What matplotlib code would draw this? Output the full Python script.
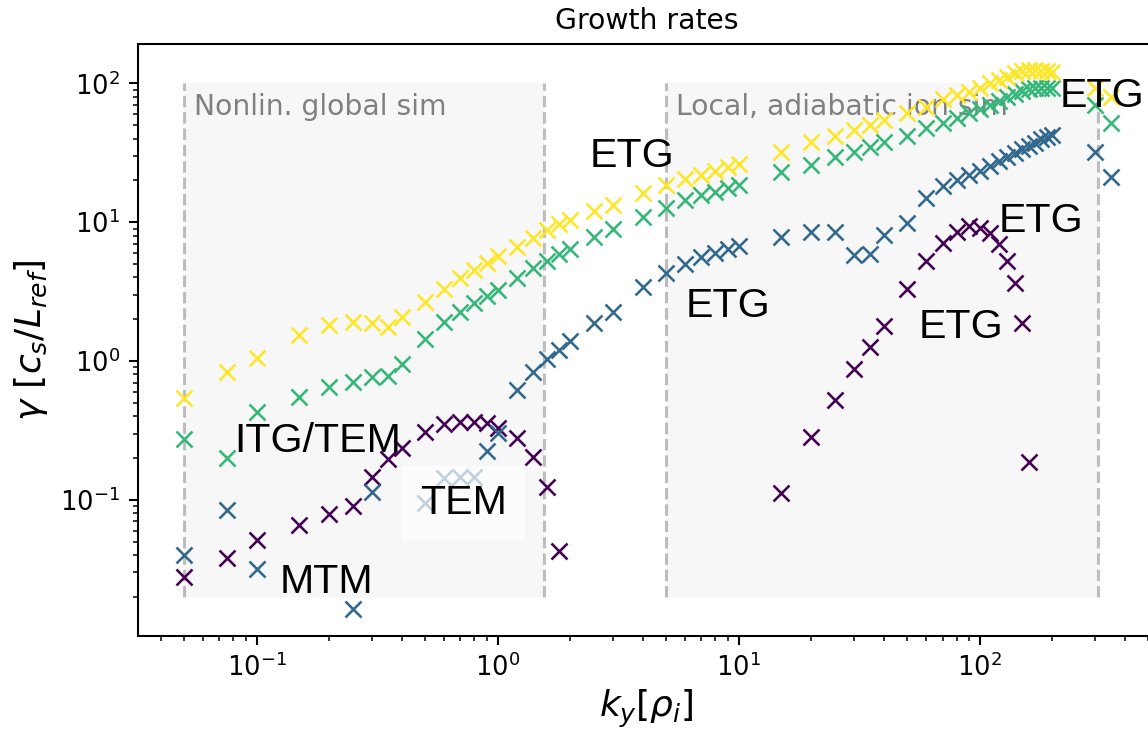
import numpy as np
import matplotlib.pyplot as plt

nan = np.nan

# binormal wavenumbers k_y rho_i
ky_global = [0.05, 0.075, 0.1, 0.15, 0.2, 0.25, 0.3, 0.35, 0.4, 0.5, 0.6, 0.7, 0.8, 0.9, 1.0,
             1.2, 1.4, 1.6, 1.8, 2.0, 2.5, 3.0, 4.0, 5.0, 6.0, 7.0, 8.0, 9.0, 10.0]
ky_local = [15, 20, 25, 30, 35, 40, 50, 60, 70, 80, 90, 100, 110, 120, 130, 140, 150, 160,
            170, 180, 190, 200, 300, 350]

# growth rates for the four scan cases (nan = stable / not found)
gamma_1_global = [0.028, 0.038, 0.051, 0.066, 0.079, 0.090, 0.145, 0.197, 0.237, 0.310, 0.350,
                  0.365, 0.362, 0.356, 0.331, 0.280, 0.205, 0.124, 0.043,
                  nan, nan, nan, nan, nan, nan, nan, nan, nan, nan]
gamma_1_local = [0.112, 0.282, 0.524, 0.871, 1.27, 1.80, 3.28, 5.25, 7.11, 8.54, 9.39, 9.04,
                 8.32, 6.96, 5.25, 3.63, 1.87, 0.188, nan, nan, nan, nan, nan, nan]

gamma_2_global = [0.040, 0.084, 0.032, nan, nan, 0.0163, 0.114, nan, nan, 0.095, 0.143,
                  0.145, 0.145, 0.226, 0.304, 0.618, 0.829, 1.03, 1.21, 1.40, 1.89, 2.27,
                  3.43, 4.28, 5.0, 5.59, 6.03, 6.38, 6.74]
gamma_2_local = [7.86, 8.46, 8.55, 5.80, 5.90, 8.09, 9.82, 14.9, 18.2, 20.1, 21.9, 23.5, 25.5,
                 27.5, 29.5, 31.5, 33.5, 35.5, 37.5, 39.5, 41.0, 42.5, 32.2, 21.3]

gamma_3_global = [0.273, 0.201, 0.431, 0.553, 0.646, 0.71, 0.762, 0.784, 0.95, 1.45, 1.91, 2.25,
                  2.60, 2.96, 3.27, 3.97, 4.70, 5.30, 5.90, 6.38, 7.79, 8.93, 10.96, 12.6,
                  14.5, 15.7, 16.6, 17.6, 18.7]
gamma_3_local = [23.1, 25.8, 29.6, 32.2, 35.0, 38.0, 41.8, 47.5, 51.5, 56.0, 61.0, 65.0, 70.0,
                 75.0, 80.0, 84.0, 88.0, 91.0, 92.0, 93.0, 92.0, 92.0, 70.0, 51.6]

gamma_4_global = [0.54, 0.84, 1.06, 1.54, 1.82, 1.90, 1.87, 1.75, 2.08, 2.66, 3.30, 3.94, 4.55,
                  5.10, 5.70, 6.65, 7.65, 8.80, 9.70, 10.4, 12.1, 13.3, 16.2, 18.5, 20.4, 21.9,
                  23.5, 24.9, 26.4]
gamma_4_local = [32.2, 38.0, 41.8, 46.2, 50.2, 54.5, 61.0, 68.0, 77.0, 82.5, 87.0, 93.0, 100.0,
                 106.0, 112.0, 118.0, 123.0, 126.0, 125.0, 123.0, 122.0, 120.0, 92.0, 80.0]

# simulation domains
global_range = (0.05, 1.55)
local_range = (5.0, 310.0)
gamma_band = (0.02, 100.0)


def main():
    fig = plt.figure(figsize=(1148 / 185, 729 / 185), dpi=185)
    ax = fig.add_axes([0.1202, 0.1276, 0.886, 0.812])

    ky = np.concatenate([ky_global, ky_local])
    cases = [gamma_1_global + gamma_1_local, gamma_2_global + gamma_2_local,
             gamma_3_global + gamma_3_local, gamma_4_global + gamma_4_local]
    colors = plt.cm.viridis(np.linspace(0, 1, len(cases)))
    for gam, c in zip(cases, colors):
        ax.plot(ky, gam, 'x', color=c, ms=6, mew=1.0)

    # shaded domains of the two simulation types
    for (k0, k1), label in [(global_range, 'Nonlin. global sim'),
                            (local_range, 'Local, adiabatic ion sim')]:
        ax.fill_between([k0, k1], gamma_band[0], gamma_band[1], color='gray', alpha=0.06,
                        lw=0, zorder=0)
        ax.vlines([k0, k1], gamma_band[0], gamma_band[1], colors='gray', alpha=0.5,
                  linestyles='--', lw=1.2, zorder=0.5)
        ax.text(k0 * 1.1, 85, label, color='gray', fontsize=11, va='top', zorder=1)

    font = dict(fontsize=16, family=['Liberation Sans', 'DejaVu Sans'])
    ax.text(0.081, 0.222, 'ITG/TEM', **font)
    ax.text(0.125, 0.0212, 'MTM', **font)
    ax.text(0.477, 0.0786, 'TEM', bbox=dict(facecolor='white', alpha=0.7, edgecolor='none',
                                            pad=7), **font)
    ax.text(2.4, 25.1, 'ETG', **font)
    ax.text(6.0, 2.08, 'ETG', **font)
    ax.text(55.6, 1.46, 'ETG', **font)
    ax.text(119.5, 8.54, 'ETG', **font)
    ax.text(215, 68, 'ETG', **font)

    ax.set_xscale('log')
    ax.set_yscale('log')
    ax.set_xlim(10 ** -1.4925, 10 ** 2.727)
    ax.set_ylim(10 ** -1.981, 10 ** 2.284)
    ax.set_xlabel(r'$k_y[\rho_i]$', fontsize=14, labelpad=2)
    ax.set_ylabel(r'$\gamma\ [c_s/L_{ref}]$', fontsize=14)
    ax.set_title('Growth rates', fontsize=11)

    fig.savefig('out.png', dpi=185)


if __name__ == '__main__':
    main()
